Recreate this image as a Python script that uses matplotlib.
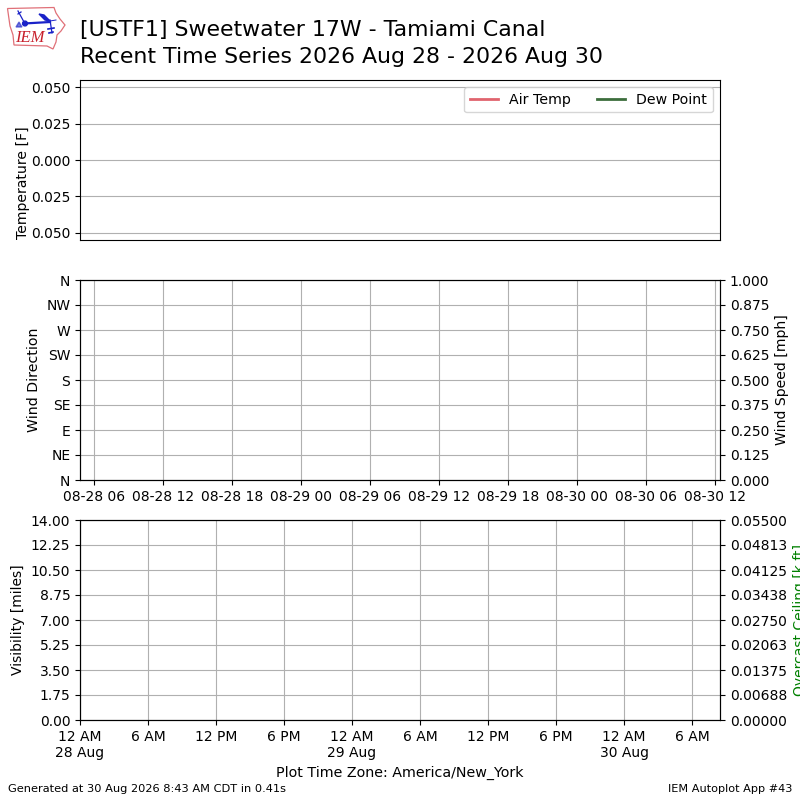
from datetime import datetime, timedelta

import matplotlib
matplotlib.use("Agg")
import matplotlib.dates as mdates
import matplotlib.pyplot as plt
from matplotlib.patches import Circle, Polygon

dirs = ["N", "NE", "E", "SE", "S", "SW", "W", "NW", "N"]
dir_ticks = [0, 45, 90, 135, 180, 225, 270, 315, 360]
speed_ticks = [0.0, 0.125, 0.25, 0.375, 0.5, 0.625, 0.75, 0.875, 1.0]
vis_ticks = [0, 1.75, 3.5, 5.25, 7.0, 8.75, 10.5, 12.25, 14.0]
ceil_ticks = [0, 0.006875, 0.01375, 0.020625, 0.0275, 0.034375, 0.04125, 0.048125, 0.055]
temp_ticks = [-0.05, -0.025, 0, 0.025, 0.05]
temp_labels = ["0.050", "0.025", "0.000", "0.025", "0.050"]
bottom_labels = ["12 AM\n28 Aug", "6 AM", "12 PM", "6 PM", "12 AM\n29 Aug", "6 AM",
                 "12 PM", "6 PM", "12 AM\n30 Aug", "6 AM"]

start = datetime(2026, 8, 28, 0, 0)
end = start + timedelta(hours=56.47)
wind_start = datetime(2026, 8, 28, 4, 45)
wind_end = datetime(2026, 8, 30, 12, 25)

fig = plt.figure(figsize=(8, 8), dpi=100)

# top panel, no obs so empty lines
ax = fig.add_axes([0.1, 0.7, 0.8, 0.2])
ax.plot([], [], color="#e0646e", lw=2, label="Air Temp")
ax.plot([], [], color="#3c6e3c", lw=2, label="Dew Point")
ax.set_ylim(-0.055, 0.055)
ax.set_yticks(temp_ticks)
ax.set_yticklabels(temp_labels)
ax.set_xlim(start, end)
ax.set_xticks([])
ax.grid(True)
ax.set_ylabel("Temperature [F]", fontsize=10.1)
ax.yaxis.set_label_coords(-0.0775, 0.36)
ax.legend(loc="upper right", ncol=2, fontsize=10.2, columnspacing=1.8)

# wind
ax2 = fig.add_axes([0.1, 0.4, 0.8, 0.25])
ax2.set_xlim(wind_start, wind_end)
ax2.xaxis.set_major_locator(mdates.HourLocator(byhour=[0, 6, 12, 18]))
ax2.xaxis.set_major_formatter(mdates.DateFormatter("%m-%d %H"))
ax2.set_ylim(0, 360)
ax2.set_yticks(dir_ticks)
ax2.set_yticklabels(dirs)
ax2.grid(True)
ax2.set_ylabel("Wind Direction", fontsize=10.2)
ax2b = ax2.twinx()
ax2b.set_ylim(0, 1)
ax2b.set_yticks(speed_ticks)
ax2b.set_yticklabels(["%.3f" % v for v in speed_ticks])
ax2b.set_ylabel("Wind Speed [mph]", fontsize=10.1)

# visibility and ceiling
ax3 = fig.add_axes([0.1, 0.1, 0.8, 0.25])
ax3.set_xlim(start, end)
ax3.set_xticks([start + timedelta(hours=6 * i) for i in range(len(bottom_labels))])
ax3.set_xticklabels(bottom_labels)
ax3.set_ylim(0, 14)
ax3.set_yticks(vis_ticks)
ax3.set_yticklabels(["%.2f" % v for v in vis_ticks])
ax3.grid(True)
ax3.set_ylabel("Visibility [miles]", fontsize=10)
ax3.set_xlabel("Plot Time Zone: America/New_York", fontsize=10.3)
ax3b = ax3.twinx()
ax3b.set_ylim(0, 0.055)
ax3b.set_yticks(ceil_ticks)
ax3b.set_yticklabels(["%.5f" % v for v in ceil_ticks])
ax3b.set_ylabel("Overcast Ceiling [k ft]", color="g", fontsize=10)

fig.text(0.1, 0.9625, "[USTF1] Sweetwater 17W - Tamiami Canal", fontsize=15.8, va="center")
fig.text(0.1, 0.929, "Recent Time Series 2026 Aug 28 - 2026 Aug 30", fontsize=15.8, va="center")
fig.text(0.01, 0.0135, "Generated at 30 Aug 2026 8:43 AM CDT in 0.41s", fontsize=8.2, va="center")
fig.text(0.99, 0.0135, "IEM Autoplot App #43", fontsize=8.1, va="center", ha="right")

# IEM logo, drawn in pixel coords of the top left corner
logo = fig.add_axes([0, 0.93, 0.0875, 0.07])
logo.set_xlim(0, 70)
logo.set_ylim(56, 0)
logo.axis("off")
blue = "#1a22c8"
iowa = [(7.5, 8.5), (54, 7.5), (56, 13), (60, 19), (65, 25), (61, 31), (57, 35), (56, 42),
        (53, 49), (47, 46), (14, 45), (13, 35), (10, 26)]
logo.add_patch(Polygon(iowa, closed=True, fill=False, edgecolor="#e07078", lw=0.9))
logo.plot([24, 50], [23.5, 22], color=blue, lw=1.6)
logo.plot([18, 24], [11, 22], color=blue, lw=0.9)
logo.plot([18, 21], [14, 12], color=blue, lw=0.9)
logo.plot([50, 52], [20, 33], color=blue, lw=0.9)
logo.plot([48, 54], [29, 28], color=blue, lw=1.2)
logo.plot([49, 53], [33, 32], color=blue, lw=1.2)
logo.plot([50, 56], [21, 20], color=blue, lw=0.7)
logo.add_patch(Polygon([(39, 14), (44, 15), (50, 21), (45, 20)], closed=True, color=blue))
logo.add_patch(Circle((25, 23.5), 2.4, color=blue))
logo.add_patch(Polygon([(16, 27), (19, 22), (22, 27)], closed=True, color=blue, alpha=0.6))
logo.text(30, 37.5, "IEM", family="Liberation Serif", style="italic", color="#c8202c",
          fontsize=12, ha="center", va="center")

fig.savefig("out.png", dpi=100)
